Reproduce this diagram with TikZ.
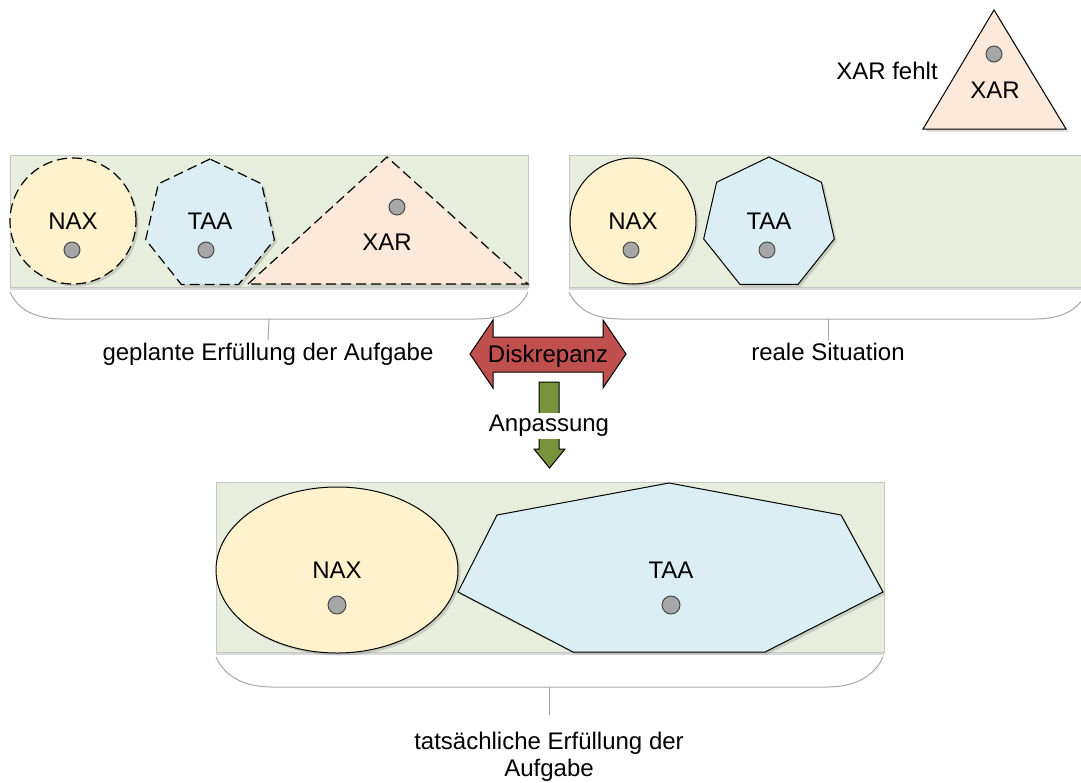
\documentclass[tikz,border=0pt]{standalone}
\usepackage{fontspec}
\setmainfont{Liberation Sans}
\usetikzlibrary{shapes.geometric,shadows}

\definecolor{panelgreen}{HTML}{E8EEDD}
\definecolor{naxyellow}{HTML}{FFF2CC}
\definecolor{taablue}{HTML}{DAEEF3}
\definecolor{xarpeach}{HTML}{FDE9D9}
\definecolor{bracegray}{HTML}{A6A6A6}
\definecolor{diskred}{HTML}{C0504D}
\definecolor{anpgreen}{HTML}{77933C}

\tikzset{
  panel/.style={draw=black!22, fill=panelgreen, line width=1pt,
    drop shadow={shadow xshift=0pt, shadow yshift=-3pt, opacity=.3}},
  shapeshadow/.style={drop shadow={shadow xshift=2.5pt, shadow yshift=-2.5pt, opacity=.3}},
  naxshape/.style={circle, draw, fill=naxyellow, line width=1pt, inner sep=0pt, shapeshadow},
  taashape/.style={regular polygon, regular polygon sides=7, draw, fill=taablue,
    line width=1pt, inner sep=0pt, shapeshadow},
  xarshape/.style={draw, fill=xarpeach, line width=1pt, shapeshadow},
  planned/.style={line width=1.2pt, dash pattern=on 10pt off 5pt},
  dot/.style={circle, draw=black!75, fill=black!35, minimum size=16pt, inner sep=0pt, line width=.9pt},
  brace/.style={draw=bracegray, line width=1pt},
  lbl/.style={font=\fontsize{24}{27}\selectfont, align=center},
  blockarrow/.style={draw=black, line width=1pt, line join=miter},
}

\begin{document}
\begin{tikzpicture}[x=1pt, y=-1pt]
    \useasboundingbox (0,0) rectangle (1081,782);

    % panel 1: planned
    \path[panel] (10,155) rectangle (528,287);
    \node(nax1) [naxshape, planned, minimum size=126pt] at (73,221) {};
    \node(nax1t) [lbl] at (73,221) {NAX};
    \node(nax1d) [dot] at (72,250) {};

    \node(taa1) [taashape, planned, minimum size=132pt] at (210,225) {};
    \node(taa1t) [lbl] at (210,221) {TAA};
    \node(taa1d) [dot] at (206,250) {};

    \path[xarshape, planned] (248,284) -- (387,157) -- (528,284) -- cycle;
    \node(xar1t) [lbl] at (387,242) {XAR};
    \node(xar1d) [dot] at (397,207) {};

    % panel 2: real
    \path[panel] (569,155) rectangle (1087,287);
    \node(nax2) [naxshape, minimum size=126pt] at (633,221) {};
    \node(nax2t) [lbl] at (633,221) {NAX};
    \node(nax2d) [dot] at (631,250) {};

    \node(taa2) [taashape, minimum size=134pt] at (769,224) {};
    \node(taa2t) [lbl] at (769,221) {TAA};
    \node(taa2d) [dot] at (767,250) {};

    % missing XAR
    \path[xarshape] (923,129) -- (994,10) -- (1066,129) -- cycle;
    \node(xar2t) [lbl] at (995,90) {XAR};
    \node(xar2d) [dot] at (994,54) {};
    \node(fehlt) [lbl] at (887,71) {XAR fehlt};

    % panel 3: actual
    \path[panel] (216,482) rectangle (884,652);
    \node(nax3) [naxshape, ellipse, minimum width=242pt, minimum height=166pt] at (337,570) {};
    \node(nax3t) [lbl] at (337,570) {NAX};
    \node(nax3d) [dot, minimum size=18pt] at (337,605) {};

    \path[fill=taablue, draw, line width=1pt, shapeshadow]
      (458,592) -- (497,515) -- (669,483) -- (841,515) -- (883,592)
      -- (765,652) -- (573,652) -- cycle;
    \node(taa3t) [lbl] at (671,570) {TAA};
    \node(taa3d) [dot, minimum size=18pt] at (671,605) {};

    %%%%% Braces and labels %%%%%
    \coordinate(b1) at (269,319);
    \coordinate(b2) at (828,319);
    \coordinate(b3) at (549,687);
    \node(plan) [lbl, anchor=north] at (268,340) {geplante Erfüllung der Aufgabe};
    \node(real) [lbl, anchor=north] at (828,340) {reale Situation};
    \node(tats) [lbl, anchor=north, inner sep=1pt] at (549,731) {tatsächliche Erfüllung der\\Aufgabe};
    \coordinate(t3) at (549,715);

    \draw[brace] (10,292) .. controls (18,310) and (36,319) .. (62,319) -- (476,319)
      .. controls (502,319) and (520,310) .. (528,292);
    \draw[brace] (569,292) .. controls (577,310) and (595,319) .. (621,319) -- (1035,319)
      .. controls (1061,319) and (1079,310) .. (1087,292);
    \draw[brace] (216,657) .. controls (225,677) and (245,687) .. (272,687) -- (827,687)
      .. controls (854,687) and (874,677) .. (883,657);

    \draw[brace] (b1) -- (plan.north);
    \draw[brace] (b2) -- (real.north);
    \draw[brace] (b3) -- (t3);

    %%%%% Arrows %%%%%
    \path[blockarrow, fill=diskred] (470,354) -- (493,320) -- (493,337) -- (603,337)
      -- (603,320) -- (626,354) -- (603,388) -- (603,372) -- (493,372) -- (493,388) -- cycle;
    \node(disk) [lbl] at (548,356) {Diskrepanz};

    \path[blockarrow, fill=anpgreen] (539,382) -- (559,382) -- (559,449) -- (565,449)
      -- (549.5,468) -- (534,449) -- (539,449) -- cycle;
    \node(anp) [lbl, fill=white, inner sep=2pt] at (549,426) {Anpassung};

\end{tikzpicture}
\end{document}
